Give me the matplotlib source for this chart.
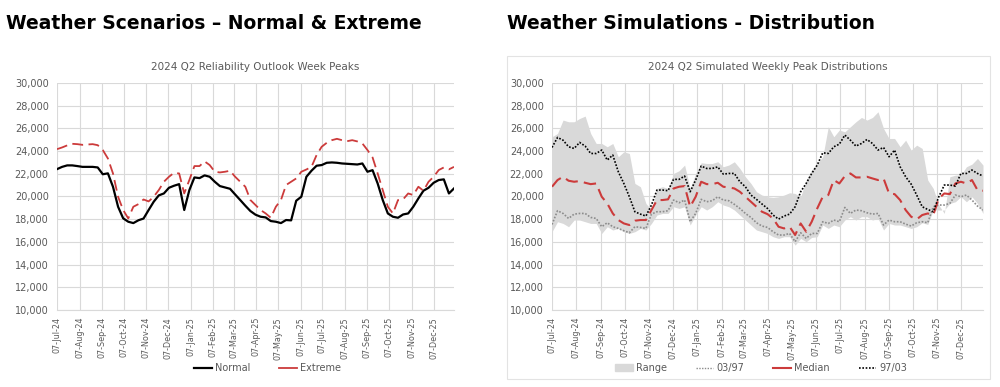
import matplotlib
matplotlib.use("Agg")
import matplotlib.pyplot as plt
import matplotlib.dates as mdates
from matplotlib.patches import Rectangle, Patch
from matplotlib.lines import Line2D
import pandas as pd

# weekly dates, 07-Jul-24 .. 04-Jan-26
dates = pd.date_range("2024-07-07", periods=79, freq="7D")
month_ticks = [pd.Timestamp(2024 + (6 + i) // 12, (6 + i) % 12 + 1, 7) for i in range(18)]

normal = [22400, 22600, 22730, 22730, 22670, 22600, 22600, 22600, 22550, 21950,
          22030, 20850, 19090, 18070, 17770, 17650, 17900, 18050, 18800, 19530,
          20090, 20260, 20760, 20940, 21080, 18800, 20550, 21670, 21610, 21850,
          21730, 21290, 20910, 20790, 20670, 20170, 19680, 19180, 18710, 18390,
          18210, 18150, 17830, 17770, 17650, 17920, 17890, 19620, 19970, 21730,
          22260, 22700, 22760, 22960, 22990, 22960, 22900, 22870, 22840, 22810,
          22900, 22170, 22310, 21140, 19680, 18500, 18210, 18120, 18410, 18500,
          19090, 19820, 20500, 20760, 21200, 21440, 21500, 20260, 20700]
extreme = [24160, 24310, 24490, 24630, 24600, 24540, 24570, 24600, 24510, 24080,
           23340, 22020, 19970, 18800, 18060, 19090, 19320, 19730, 19560, 19970,
           20560, 21290, 21730, 22080, 22020, 20260, 21440, 22670, 22670, 23080,
           22760, 22170, 22110, 22170, 22260, 21730, 21290, 20850, 19680, 19240,
           18800, 18500, 18120, 19090, 19680, 21000, 21290, 21580, 22170, 22370,
           22600, 23640, 24370, 24720, 24950, 25070, 24950, 24860, 24950, 24840,
           24660, 24080, 23430, 22020, 20560, 19090, 18500, 19680, 19740, 20260,
           20120, 20850, 20500, 21290, 21730, 22320, 22550, 22380, 22600]

range_hi = [25250, 25540, 26720, 26570, 26570, 26860, 27070, 25540, 24660, 24660,
            24370, 24660, 23490, 23930, 23780, 21140, 20850, 19380, 18800, 20700,
            20850, 20700, 22020, 22260, 22760, 20700, 22020, 22960, 22900, 22900,
            23050, 22610, 22760, 23050, 22460, 21730, 21140, 20410, 20120, 19970,
            19910, 19970, 20120, 20320, 20260, 19970, 21440, 22320, 22900, 23490,
            26130, 25250, 25840, 25690, 26130, 26570, 26950, 26720, 26950, 27450,
            25980, 25100, 25100, 24370, 24950, 24080, 24510, 24220, 21440, 20700,
            19240, 18500, 21730, 21870, 21870, 22610, 22840, 23340, 22760]
range_lo = [16890, 17770, 17620, 17330, 17920, 17920, 17770, 17620, 17620, 16740,
            17330, 17040, 17180, 16890, 16740, 16890, 17180, 17040, 17620, 18360,
            18500, 18500, 19090, 18940, 19090, 17480, 18360, 19090, 18800, 19090,
            19530, 19240, 19090, 18800, 18360, 17920, 17480, 17040, 16890, 16740,
            16450, 16300, 16450, 16450, 15710, 16300, 16010, 16390, 16450, 17480,
            17180, 17480, 17330, 17920, 18210, 17920, 18210, 18210, 17920, 18060,
            17040, 17620, 17480, 17480, 17330, 17180, 17330, 17680, 17530, 18800,
            18800, 18800, 19380, 19530, 19970, 19530, 19970, 19380, 18500]
p97 = [24310, 25190, 24950, 24370, 24220, 24750, 24430, 23780, 23780, 24080,
       23200, 23640, 22170, 21140, 19970, 18650, 18440, 18270, 19240, 20560,
       20560, 20500, 21500, 21500, 21790, 20410, 21440, 22670, 22460, 22460,
       22600, 21960, 22020, 22020, 21290, 20850, 20120, 19740, 19330, 18940,
       18360, 18000, 18270, 18440, 19090, 20410, 21140, 22020, 22760, 23840,
       23780, 24370, 24600, 25400, 24950, 24430, 24660, 25010, 24660, 24080,
       24310, 23490, 24080, 22610, 21730, 21080, 20120, 19090, 18850, 18650,
       19970, 21000, 21000, 20910, 22020, 22020, 22320, 22020, 21790]
p03 = [17530, 18740, 18500, 18060, 18440, 18500, 18500, 18150, 18060, 17330,
       17680, 17330, 17180, 16980, 16800, 17330, 17270, 17180, 18440, 18650,
       18650, 18740, 19680, 19440, 19680, 17770, 18500, 19740, 19530, 19620,
       19970, 19680, 19620, 19300, 18940, 18500, 18150, 17680, 17390, 17270,
       16890, 16600, 16600, 16740, 16010, 16800, 16300, 16740, 16740, 17770,
       17620, 17920, 17770, 19030, 18500, 18800, 18740, 18560, 18440, 18500,
       17480, 17920, 17770, 17770, 17560, 17390, 17680, 17770, 17680, 19090,
       19240, 19240, 19380, 20120, 19970, 20120, 19680, 19150, 18800]
median = [20850, 21440, 21730, 21380, 21290, 21350, 21200, 21080, 21140, 19970,
          19380, 18500, 17920, 17620, 17480, 17860, 17920, 17920, 18800, 19680,
          19680, 19740, 20700, 20850, 20910, 19090, 19970, 21290, 21080, 21080,
          21200, 20850, 20790, 20700, 20410, 19970, 19530, 19090, 18650, 18440,
          18060, 17330, 17180, 17330, 16600, 17620, 16890, 17770, 18940, 19970,
          20120, 21440, 21140, 21790, 22020, 21670, 21670, 21730, 21580, 21440,
          21580, 20260, 20200, 19680, 18800, 18210, 17980, 18360, 18500, 18360,
          19820, 20260, 20200, 21140, 21290, 21140, 21440, 20560, 20500]

RED = "#cc3b3b"
GRID = "#d9d9d9"
TXT = "#595959"

fig = plt.figure(figsize=(10, 3.87), dpi=100)


def style(ax, title):
    ax.set_ylim(10000, 30000)
    ax.set_yticks(range(10000, 30001, 2000))
    ax.yaxis.set_major_formatter(plt.FuncFormatter(lambda v, p: f"{int(v):,}"))
    ax.set_xlim(dates[0], dates[-1])
    ax.set_xticks(month_ticks)
    ax.xaxis.set_major_formatter(mdates.DateFormatter("%d-%b-%y"))
    ax.tick_params(axis="x", rotation=90, labelsize=5.8, colors=TXT, length=0, pad=5)
    ax.tick_params(axis="y", labelsize=7, colors=TXT, length=0, pad=6)
    ax.grid(True, color=GRID, lw=0.8)
    ax.set_axisbelow(True)
    for s in ["top", "right", "left"]:
        ax.spines[s].set_visible(False)
    ax.spines["bottom"].set_color(GRID)
    ax.set_title(title, fontsize=7.5, color=TXT, pad=9)


# left chart
ax1 = fig.add_axes([0.057, 0.199, 0.397, 0.587])
ax1.plot(dates, normal, color="black", lw=1.6, label="Normal")
ax1.plot(dates, extreme, color=RED, lw=1.3, dashes=(6, 3), label="Extreme")
style(ax1, "2024 Q2 Reliability Outlook Week Peaks")
ax1.legend(handles=[Line2D([], [], color="black", lw=1.6),
                    Line2D([], [], color=RED, lw=1.3)],
           labels=["Normal", "Extreme"], loc="center", bbox_to_anchor=(0.53, -0.255),
           ncol=2, frameon=False, fontsize=7, handlelength=1.8, handletextpad=0.3,
           columnspacing=3.0, labelcolor=TXT)

# right chart
fig.add_artist(Rectangle((0.507, 0.021), 0.483, 0.835, transform=fig.transFigure,
                         fill=False, edgecolor="#e3e3e3", lw=0.8))
ax2 = fig.add_axes([0.552, 0.199, 0.431, 0.587])
ax2.fill_between(dates, range_lo, range_hi, color="#d9d9d9", lw=0)
ax2.plot(dates, p03, color="#8c8c8c", lw=1.2, ls=(0, (1, 1)))
ax2.plot(dates, median, color=RED, lw=1.5, dashes=(6, 3))
ax2.plot(dates, p97, color="black", lw=1.2, ls=(0, (1, 1)))
style(ax2, "2024 Q2 Simulated Weekly Peak Distributions")
ax2.legend(handles=[Patch(color="#d9d9d9"),
                    Line2D([], [], color="#8c8c8c", lw=1.0, ls=(0, (1, 1))),
                    Line2D([], [], color=RED, lw=1.5),
                    Line2D([], [], color="black", lw=1.2, ls=(0, (1, 1)))],
           labels=["Range", "03/97", "Median", "97/03"], loc="center",
           bbox_to_anchor=(0.485, -0.255), ncol=4, frameon=False, fontsize=7,
           handlelength=1.8, handletextpad=0.3, columnspacing=3.0, labelcolor=TXT)

fig.text(0.006, 0.925, "Weather Scenarios – Normal & Extreme", fontsize=13.5,
         fontweight="bold", va="baseline")
fig.text(0.507, 0.925, "Weather Simulations - Distribution", fontsize=13.5,
         fontweight="bold", va="baseline")

fig.savefig("out.png", dpi=100)
